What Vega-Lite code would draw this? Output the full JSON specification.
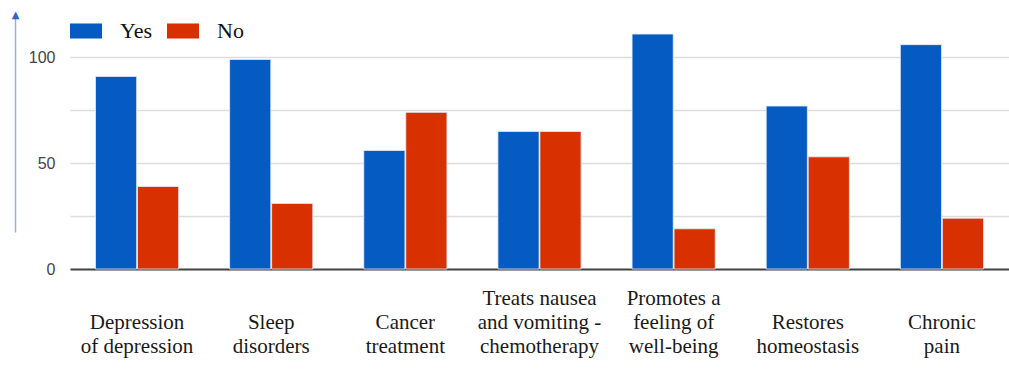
{
  "$schema": "https://vega.github.io/schema/vega-lite/v6.json",
  "width": 939,
  "height": 254,
  "autosize": "none",
  "padding": {"left": 70, "top": 15, "right": 0, "bottom": 103},
  "background": "white",
  "data": {
    "values": [
      {"benefit": "Depression of depression", "answer": "Yes", "count": 91},
      {"benefit": "Depression of depression", "answer": "No", "count": 39},
      {"benefit": "Sleep disorders", "answer": "Yes", "count": 99},
      {"benefit": "Sleep disorders", "answer": "No", "count": 31},
      {"benefit": "Cancer treatment", "answer": "Yes", "count": 56},
      {"benefit": "Cancer treatment", "answer": "No", "count": 74},
      {"benefit": "Treats nausea and vomiting - chemotherapy", "answer": "Yes", "count": 65},
      {"benefit": "Treats nausea and vomiting - chemotherapy", "answer": "No", "count": 65},
      {"benefit": "Promotes a feeling of well-being", "answer": "Yes", "count": 111},
      {"benefit": "Promotes a feeling of well-being", "answer": "No", "count": 19},
      {"benefit": "Restores homeostasis", "answer": "Yes", "count": 77},
      {"benefit": "Restores homeostasis", "answer": "No", "count": 53},
      {"benefit": "Chronic pain", "answer": "Yes", "count": 106},
      {"benefit": "Chronic pain", "answer": "No", "count": 24}
    ]
  },
  "config": {
    "view": {"stroke": null},
    "axis": {"labelFont": "Liberation Sans", "titleFont": "Liberation Sans"}
  },
  "layer": [
    {
      "mark": {"type": "bar", "stroke": "#e8eefa", "strokeWidth": 0.8},
      "encoding": {
        "x": {
          "field": "benefit",
          "type": "nominal",
          "sort": null,
          "scale": {"paddingInner": 0.38, "paddingOuter": 0.19},
          "axis": {
            "title": null,
            "ticks": false,
            "domain": true,
            "domainColor": "#444444",
            "domainWidth": 2,
            "labelAngle": 0,
            "labelFont": "Liberation Serif",
            "labelFontSize": 21,
            "labelColor": "#1a1a1a",
            "labelLineHeight": 24,
            "labelBaseline": "top",
            "labelPadding": 18,
            "labelLimit": 200,
            "labelExpr": "{'Depression of depression': ['', 'Depression', 'of depression'], 'Sleep disorders': ['', 'Sleep', 'disorders'], 'Cancer treatment': ['', 'Cancer', 'treatment'], 'Treats nausea and vomiting - chemotherapy': ['Treats nausea', 'and vomiting -', 'chemotherapy'], 'Promotes a feeling of well-being': ['Promotes a', 'feeling of', 'well-being'], 'Restores homeostasis': ['', 'Restores', 'homeostasis'], 'Chronic pain': ['', 'Chronic', 'pain']}[datum.value]"
          }
        },
        "xOffset": {
          "field": "answer",
          "type": "nominal",
          "sort": ["Yes", "No"],
          "scale": {"paddingInner": 0.02}
        },
        "y": {
          "field": "count",
          "type": "quantitative",
          "scale": {"domain": [0, 120], "nice": false},
          "axis": {
            "title": null,
            "values": [0, 25, 50, 75, 100],
            "labelExpr": "datum.value % 50 === 0 ? datum.label : ''",
            "domain": false,
            "ticks": false,
            "labelFontSize": 16,
            "labelColor": "#444444",
            "labelPadding": 15,
            "gridColor": "#dddddd",
            "gridWidth": 1.5
          }
        },
        "color": {
          "field": "answer",
          "type": "nominal",
          "sort": ["Yes", "No"],
          "scale": {"domain": ["Yes", "No"], "range": ["#055bc2", "#d93000"]},
          "legend": {
            "title": null,
            "orient": "none",
            "direction": "horizontal",
            "legendX": 0,
            "legendY": 0,
            "symbolType": "M-1,-0.47H1V0.47H-1Z",
            "symbolSize": 1024,
            "symbolStrokeWidth": 0,
            "labelFont": "Liberation Serif",
            "labelFontSize": 22,
            "labelColor": "#111111",
            "labelOffset": 18,
            "columnPadding": 14
          }
        }
      }
    },
    {
      "mark": {"type": "rule", "opacity": 0},
      "encoding": {
        "y": {
          "field": "count",
          "type": "quantitative",
          "scale": {"domain": [0, 120], "nice": false, "range": [217, 0]},
          "axis": {
            "orient": "left",
            "offset": 55,
            "labels": false,
            "ticks": false,
            "grid": false,
            "domain": true,
            "domainColor": "#8fb0e8",
            "domainWidth": 1.5,
            "title": "▲",
            "titleFont": "DejaVu Sans",
            "titleFontSize": 10,
            "titleColor": "#2f63c6",
            "titleAngle": 0,
            "titleAlign": "center",
            "titleBaseline": "middle",
            "titleX": 0,
            "titleY": -1
          }
        }
      }
    }
  ],
  "resolve": {"scale": {"y": "independent"}}
}
